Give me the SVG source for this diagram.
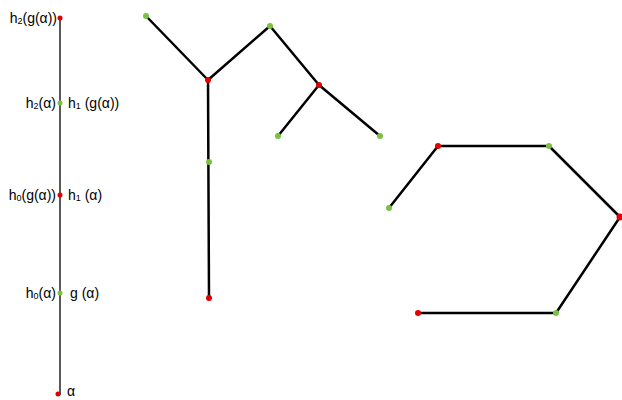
<svg xmlns="http://www.w3.org/2000/svg" width="622" height="400" viewBox="0 0 622 400">
<style>
.e{stroke:#000;stroke-width:2.5;stroke-linecap:round;fill:none}
.v{stroke:#000;stroke-width:1.3;fill:none}
.r{fill:#e00000}
.g{fill:#7ac142}
text{font-family:"Liberation Sans","DejaVu Sans",sans-serif;font-size:14px;fill:#000;dominant-baseline:central}
.L{text-anchor:end}
.s{font-size:9px}
</style>
<rect width="622" height="400" fill="#fff"/>
<g id="connectors">
<line class="v" x1="60" y1="18" x2="60" y2="395"/>
<line class="e" x1="146" y1="16" x2="208" y2="80"/>
<line class="e" x1="208" y1="80" x2="270" y2="26"/>
<line class="e" x1="208" y1="80" x2="209" y2="298"/>
<line class="e" x1="270" y1="26" x2="319" y2="85"/>
<line class="e" x1="319" y1="85" x2="278" y2="136"/>
<line class="e" x1="319" y1="85" x2="380" y2="136"/>
<line class="e" x1="389" y1="208" x2="438" y2="146"/>
<line class="e" x1="438" y1="146" x2="549" y2="146"/>
<line class="e" x1="549" y1="146" x2="620" y2="217"/>
<line class="e" x1="620" y1="217" x2="556" y2="313"/>
<line class="e" x1="418" y1="313" x2="556" y2="313"/>
</g>
<g id="line-points">
<circle class="r" cx="60" cy="18" r="2.5"/>
<circle class="g" cx="60" cy="103" r="2.5"/>
<circle class="r" cx="60" cy="195" r="2.5"/>
<circle class="g" cx="60" cy="293" r="2.5"/>
<circle class="r" cx="58" cy="394" r="2.5"/>
</g>
<g id="labels">
<text class="L" x="57" y="18">h<tspan class="s" dy="3">2</tspan><tspan dy="-3">(g(α))</tspan></text>
<text class="L" x="56" y="103">h<tspan class="s" dy="3">2</tspan><tspan dy="-3">(α)</tspan></text>
<text x="68" y="103">h<tspan class="s" dy="3">1</tspan><tspan dy="-3"> (g(α))</tspan></text>
<text class="L" x="56" y="195">h<tspan class="s" dy="3">0</tspan><tspan dy="-3">(g(α))</tspan></text>
<text x="68" y="195">h<tspan class="s" dy="3">1</tspan><tspan dy="-3"> (α)</tspan></text>
<text class="L" x="56" y="293">h<tspan class="s" dy="3">0</tspan><tspan dy="-3">(α)</tspan></text>
<text x="70" y="293">g (α)</text>
<text x="67" y="391">α</text>
</g>
<g id="tree">
<circle class="g" cx="146" cy="16" r="3"/>
<circle class="r" cx="208" cy="80" r="3"/>
<circle class="g" cx="270" cy="26" r="3"/>
<circle class="g" cx="209" cy="162" r="3"/>
<circle class="r" cx="209" cy="298" r="3"/>
<circle class="r" cx="319" cy="85" r="3"/>
<circle class="g" cx="278" cy="136" r="3"/>
<circle class="g" cx="380" cy="136" r="3"/>
</g>
<g id="chain">
<circle class="g" cx="389" cy="208" r="3"/>
<circle class="r" cx="438" cy="146" r="3"/>
<circle class="g" cx="549" cy="146" r="3"/>
<circle class="r" cx="620" cy="217" r="3.5"/>
<circle class="g" cx="556" cy="313" r="3"/>
<circle class="r" cx="418" cy="313" r="3"/>
</g>
</svg>
